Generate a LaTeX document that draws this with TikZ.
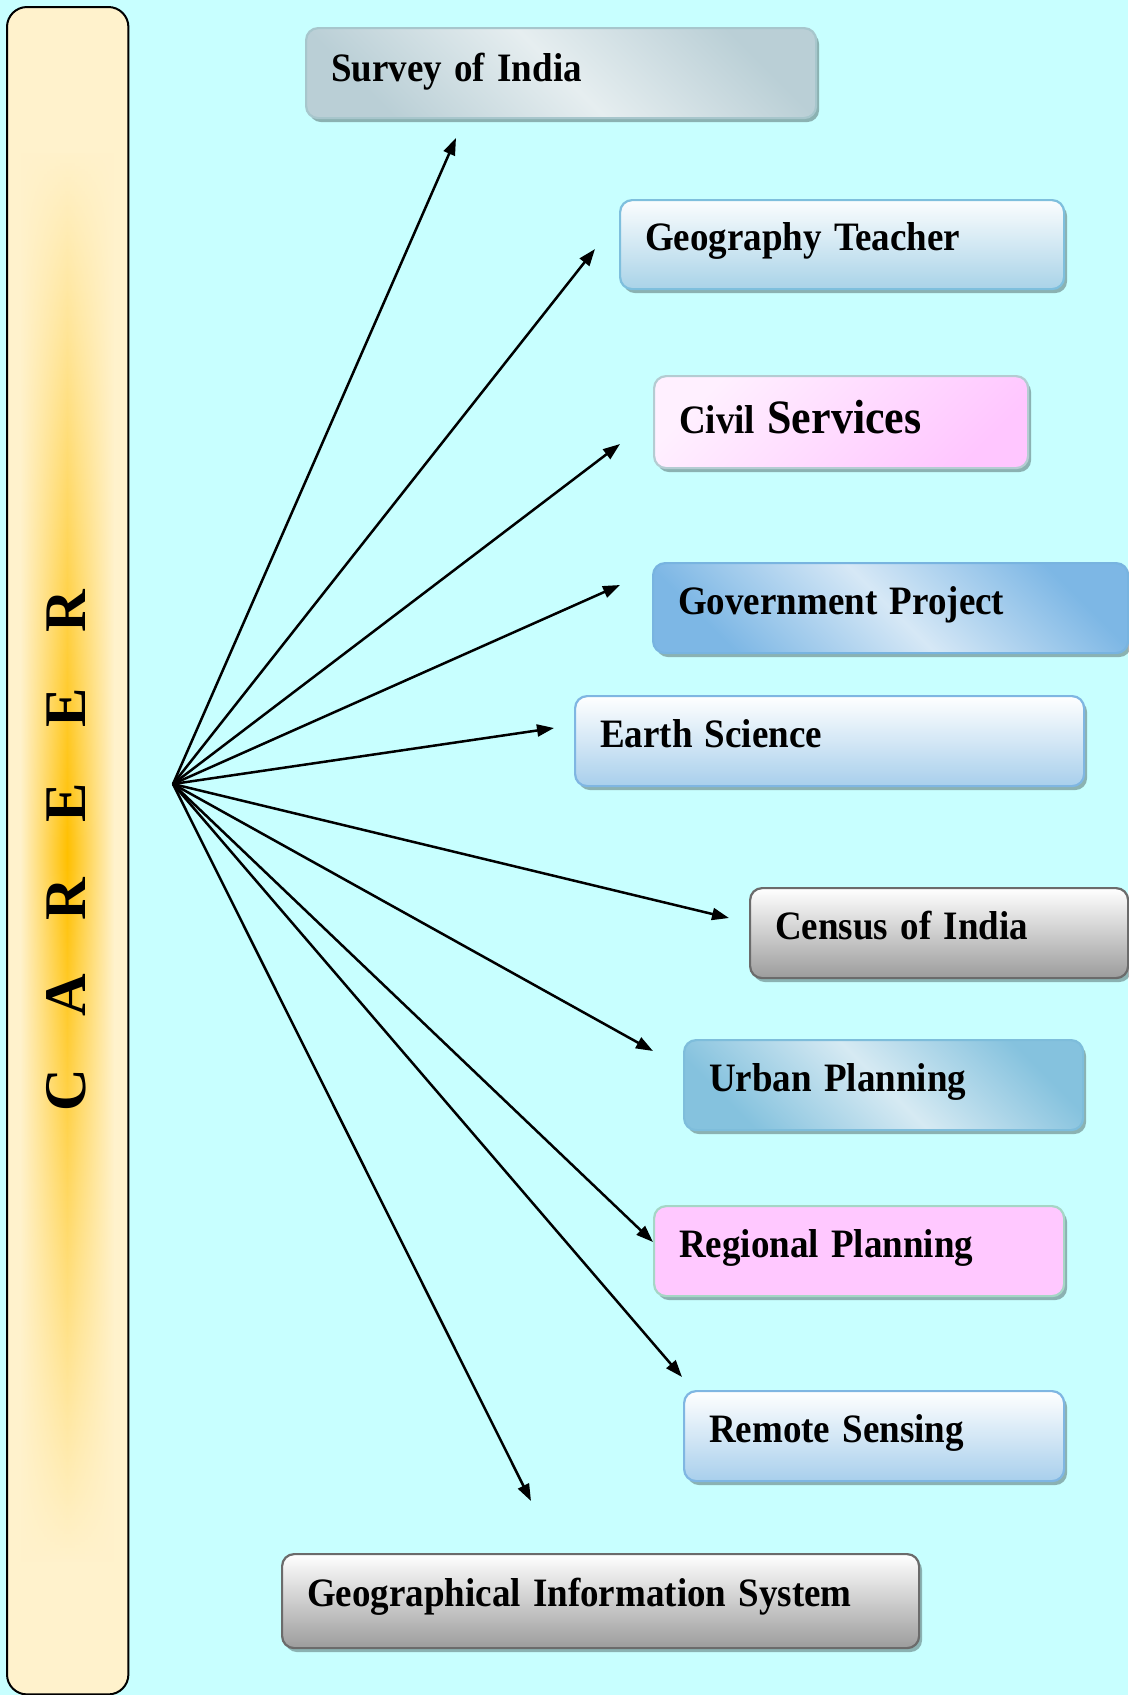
\documentclass[tikz,border=0pt]{standalone}
\usepackage{fontspec}
\setmainfont{Liberation Serif}
\usetikzlibrary{arrows.meta,shadows,fadings}
\definecolor{bgc}{HTML}{C8FFFF}
\definecolor{crc}{HTML}{FFF2CC}
\definecolor{orc}{HTML}{FFC000}
\definecolor{svB}{HTML}{A7C6CC}\definecolor{svL}{HTML}{E6EEF0}\definecolor{svD}{HTML}{BACFD6}
\definecolor{geB}{HTML}{7EBFDD}\definecolor{geT}{HTML}{FBFDFE}\definecolor{geD}{HTML}{A9D3E8}
\definecolor{ciB}{HTML}{B4CCD2}\definecolor{ciL}{HTML}{FFF0FF}\definecolor{ciD}{HTML}{FFC6FF}
\definecolor{goB}{HTML}{78B4E0}\definecolor{goD}{HTML}{7DB7E5}\definecolor{goL}{HTML}{D6E8F6}
\definecolor{eaB}{HTML}{7FB6E2}\definecolor{eaD}{HTML}{A8CFEC}
\definecolor{grB}{HTML}{6B6B6B}\definecolor{grD}{HTML}{9C9C9C}
\definecolor{urB}{HTML}{7EBDDB}\definecolor{urD}{HTML}{85C2DE}\definecolor{urL}{HTML}{D6EAF3}
\definecolor{reB}{HTML}{A5D6C6}\definecolor{reF}{HTML}{FFC8FF}
\tikzfading[name=vfade, top color=transparent!100, bottom color=transparent!100, middle color=transparent!0]
\newcommand{\tx}[1]{\scalebox{1}[1.09]{#1}}
\tikzset{
  boxbase/.style={rectangle, rounded corners=12pt, line width=2.2pt, anchor=north west,
    inner xsep=25pt, inner ysep=0pt, align=left, text height=12pt, text depth=0pt,
    minimum height=90pt,
    font=\fontsize{37}{40}\selectfont\bfseries,
    drop shadow={shadow xshift=3pt, shadow yshift=-4pt, fill=black, opacity=0.3}},
  diagbox/.style n args={3}{boxbase, draw=#1, left color=#2, right color=#2, middle color=#3, shading angle=135},
  vertbox/.style n args={3}{boxbase, draw=#1, top color=#2, bottom color=#3},
  arr/.style={line width=2.5pt, -{Triangle[length=17pt,width=12pt]}}
}
\begin{document}
\begin{tikzpicture}[x=1pt,y=-1pt]
\useasboundingbox (0,0) rectangle (1128,1695);
\fill[bgc] (0,0) rectangle (1128,1695);
% left panel
\node[fill=crc, rounded corners=20pt, minimum width=121pt, minimum height=1687pt, inner sep=0pt, anchor=north west] (panel) at (7,7) {};
\shade[left color=crc, right color=crc, middle color=orc, path fading=vfade] (20,150) rectangle (114,1560);
\draw[line width=2pt, rounded corners=20pt] (panel.north west) rectangle (panel.south east);
\node[rotate=90, inner sep=0pt, font=\fontsize{59}{60}\selectfont\bfseries] (career) at (66,851)
  {\makebox[95.8pt]{C}\makebox[95.8pt]{A}\makebox[95.8pt]{R}\makebox[95.8pt]{E}\makebox[95.8pt]{E}\makebox[95.8pt]{R}};
% boxes
\node[diagbox={svB}{svD}{svL}, text width=460pt, text height=16pt] (survey) at (305,27) {\tx{Survey of India}};
\node[vertbox={geB}{geT}{geD}, text width=394pt, minimum height=89pt] (geo) at (619,199) {\tx{Geography Teacher}};
\node[boxbase, draw=ciB, top color=ciL, bottom color=ciD, shading angle=45, text width=324pt, minimum height=92pt, text height=22pt] (civil) at (653,375) {\tx{Civil {\fontsize{44}{46}\selectfont Services}}};
\node[diagbox={goB}{goD}{goL}, text width=425pt] (gov) at (652,562) {\tx{Government Project}};
\node[vertbox={eaB}{white}{eaD}, text width=459pt] (earth) at (574,695) {\tx{Earth Science}};
\node[vertbox={grB}{white}{grD}, text width=328pt] (census) at (749,887) {\tx{Census of India}};
\node[diagbox={urB}{urD}{urL}, text width=349pt] (urban) at (683,1039) {\tx{Urban Planning}};
\node[boxbase, draw=reB, fill=reF, text width=360pt] (regional) at (653,1205) {\tx{Regional Planning}};
\node[vertbox={eaB}{white}{eaD}, text width=330pt] (remote) at (683,1390) {\tx{Remote Sensing}};
\node[vertbox={grB}{white}{grD}, text width=587pt, minimum height=94pt, text height=10pt] (gis) at (281,1553) {\tx{Geographical Information System}};
% arrows
\coordinate (hub) at (173,784);
\coordinate (t1) at (456,138);
\coordinate (t2) at (595,249);
\coordinate (t3) at (620,444);
\coordinate (t4) at (620,585);
\coordinate (t5) at (554,728);
\coordinate (t6) at (729,918);
\coordinate (t7) at (653,1051);
\coordinate (t8) at (653,1242);
\coordinate (t9) at (682,1377);
\coordinate (t10) at (531,1501);
\foreach \t in {t1,t2,t3,t4,t5,t6,t7,t8,t9,t10} \draw[arr] (hub) -- (\t);
\end{tikzpicture}
\end{document}
